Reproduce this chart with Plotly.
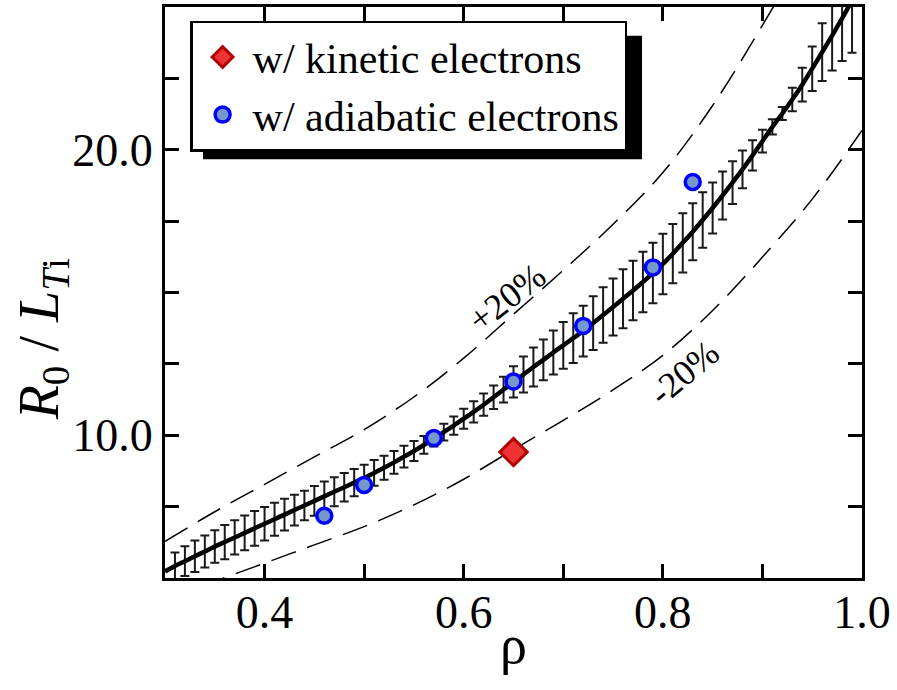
import plotly.graph_objects as go

# ---- data ----
rho_fit = [0.30, 0.31, 0.32, 0.33, 0.34, 0.35, 0.36, 0.37, 0.38, 0.39,
           0.40, 0.41, 0.42, 0.43, 0.44, 0.45, 0.46, 0.47, 0.48, 0.49,
           0.50, 0.51, 0.52, 0.53, 0.54, 0.55, 0.56, 0.57, 0.58, 0.59,
           0.60, 0.61, 0.62, 0.63, 0.64, 0.65, 0.66, 0.67, 0.68, 0.69,
           0.70, 0.71, 0.72, 0.73, 0.74, 0.75, 0.76, 0.77, 0.78, 0.79,
           0.80, 0.81, 0.82, 0.83, 0.84, 0.85, 0.86, 0.87, 0.88, 0.89,
           0.90, 0.91, 0.92, 0.93, 0.94, 0.95, 0.96, 0.97, 0.98, 0.99, 1.00]
fit = [5.23, 5.42, 5.59, 5.76, 5.93, 6.10, 6.26, 6.42, 6.58, 6.74,
       6.90, 7.06, 7.22, 7.38, 7.54, 7.70, 7.86, 8.02, 8.18, 8.34,
       8.50, 8.68, 8.86, 9.05, 9.25, 9.45, 9.66, 9.88, 10.11, 10.34,
       10.58, 10.82, 11.07, 11.33, 11.60, 11.87, 12.13, 12.39, 12.64, 12.90,
       13.15, 13.40, 13.65, 13.93, 14.21, 14.49, 14.78, 15.07, 15.37, 15.68,
       16.00, 16.36, 16.74, 17.13, 17.54, 17.96, 18.40, 18.85, 19.31, 19.80,
       20.30, 20.80, 21.27, 21.76, 22.28, 22.84, 23.42, 24.00, 24.60, 25.22, 25.85]
# error bar half-lengths at rho = 0.31 ... 0.99
fit_err = [0.47, 0.52, 0.55, 0.56, 0.57, 0.60, 0.60, 0.61, 0.61,
           0.59, 0.58, 0.56, 0.54, 0.52, 0.52, 0.52, 0.51, 0.50, 0.48,
           0.47, 0.45, 0.42, 0.40, 0.38, 0.35, 0.31, 0.27, 0.29, 0.32,
           0.35, 0.37, 0.39, 0.41, 0.45, 0.55, 0.63, 0.68, 0.71, 0.77,
           0.82, 0.87, 0.89, 0.94, 0.97, 1.00, 1.03, 1.04, 1.06, 1.06,
           1.06, 1.04, 1.04, 1.00, 0.97, 0.89, 0.84, 0.75, 0.66, 0.53,
           0.40, 0.27, 0.23, 0.41, 0.59, 0.78, 1.01, 1.22, 1.49, 1.82]

rho_band = [0.30, 0.35, 0.40, 0.45, 0.50, 0.55, 0.60, 0.65, 0.70, 0.75,
            0.80, 0.85, 0.90, 0.95, 1.00]
plus20 = [6.28, 7.32, 8.28, 9.24, 10.20, 11.34, 12.70, 14.24, 15.78, 17.39,
          19.20, 21.55, 24.36, 27.41, 31.02]
minus20 = [4.18, 4.88, 5.52, 6.16, 6.80, 7.56, 8.46, 9.50, 10.52, 11.59,
           12.80, 14.37, 16.24, 18.27, 20.68]

rho_kin = [0.65]
val_kin = [9.41]
rho_adi = [0.46, 0.50, 0.57, 0.65, 0.72, 0.79, 0.83]
val_adi = [7.18, 8.26, 9.90, 11.88, 13.83, 15.88, 18.87]

x_tickvals = [0.3, 0.4, 0.5, 0.6, 0.7, 0.8, 0.9, 1.0]
x_ticktext = ["", "0.4", "", "0.6", "", "0.8", "", "1.0"]
y_tickvals = [5, 7.5, 10, 12.5, 15, 17.5, 20, 22.5, 25]
y_ticktext = ["", "", "10.0", "", "", "", "20.0", "", ""]

FONT = "Liberation Serif"

fig = go.Figure()

fig.add_trace(go.Scatter(x=rho_band, y=plus20, mode="lines", showlegend=False,
                         line=dict(color="black", width=1.5, dash="26px,12px", shape="spline")))
fig.add_trace(go.Scatter(x=rho_band, y=minus20, mode="lines", showlegend=False,
                         line=dict(color="black", width=1.5, dash="26px,12px", shape="spline")))
fig.add_trace(go.Scatter(x=rho_fit[1:70], y=fit[1:70], mode="markers", showlegend=False,
                         marker=dict(size=1, color="rgba(0,0,0,0)"),
                         error_y=dict(type="data", array=fit_err, visible=True,
                                      color="#1a1a1a", thickness=2, width=4.5)))
fig.add_trace(go.Scatter(x=rho_fit, y=fit, mode="lines", showlegend=False,
                         line=dict(color="black", width=4.5, shape="spline", smoothing=1.0)))
fig.add_trace(go.Scatter(x=rho_kin, y=val_kin, mode="markers", name="w/ kinetic electrons",
                         marker=dict(symbol="diamond", size=21, color="#ee3333",
                                     line=dict(color="#b00000", width=3))))
fig.add_trace(go.Scatter(x=rho_adi, y=val_adi, mode="markers", name="w/ adiabatic electrons",
                         marker=dict(symbol="circle", size=15, color="#7399cc",
                                     line=dict(color="#0000ff", width=3.5))))

axis_common = dict(showline=True, linecolor="black", linewidth=3, mirror="ticks",
                   ticks="inside", ticklen=14, tickwidth=2.5, tickcolor="black",
                   showgrid=False, zeroline=False,
                   tickfont=dict(family=FONT, size=46, color="black"))

fig.update_xaxes(range=[0.3, 1.0], tickmode="array", tickvals=x_tickvals,
                 ticktext=x_ticktext, ticklabelstandoff=-8, **axis_common)
fig.update_yaxes(range=[5, 25], tickmode="array", tickvals=y_tickvals,
                 ticktext=y_ticktext, **axis_common)

fig.add_annotation(text="ρ", xref="paper", yref="paper", x=0.5, y=-0.118,
                   showarrow=False, xanchor="center", yanchor="middle",
                   font=dict(family=FONT, size=54, color="black"))
fig.add_annotation(text="<i>R</i><sub>0</sub>&nbsp;/&nbsp;<i>L</i><sub><i>T</i>i</sub>",
                   xref="paper", yref="paper", x=-0.175, y=0.418, textangle=-90,
                   showarrow=False, xanchor="center", yanchor="middle",
                   font=dict(family=FONT, size=56, color="black"))
fig.add_annotation(text="+20%", x=0.643, y=14.8, showarrow=False, textangle=-38,
                   font=dict(family=FONT, size=36, color="black"))
fig.add_annotation(text="-20%", x=0.821, y=12.19, showarrow=False, textangle=-40,
                   font=dict(family=FONT, size=36, color="black"))

# legend drop shadow
fig.add_shape(type="rect", xref="paper", yref="paper",
              x0=0.0545, x1=0.6844, y0=0.7334, y1=0.9495,
              fillcolor="black", line=dict(width=0), layer="above")

fig.update_layout(
    width=897, height=690,
    margin=dict(l=165, r=35, t=4, b=112),
    paper_bgcolor="white", plot_bgcolor="white",
    font=dict(family=FONT, color="black"),
    legend=dict(x=0.036, y=0.976, xanchor="left", yanchor="top",
                bgcolor="white", bordercolor="black", borderwidth=2.5,
                font=dict(family=FONT, size=42, color="black"),
                itemwidth=50, tracegroupgap=0),
)

fig.write_html("out.html")
